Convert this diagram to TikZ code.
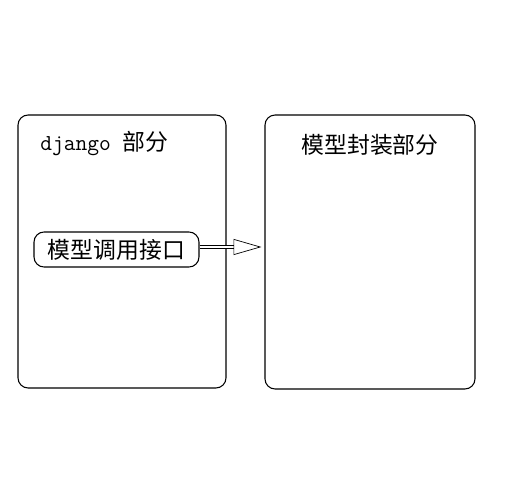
\documentclass[tikz,border=0pt]{standalone}
\usepackage{fontspec}
\newfontfamily\cjk{Noto Sans CJK SC}
\usetikzlibrary{arrows.meta}
\tikzset{
  part/.style={draw,rounded corners=0.2cm,line width=0.6pt},
  ifc/.style={draw,rounded corners=0.2cm,line width=0.6pt,minimum width=3.3cm,minimum height=0.7cm,inner sep=0pt,font=\cjk\fontsize{13}{15}\selectfont},
  ttl/.style={inner sep=0pt,font=\fontsize{13}{15}\selectfont},
  call/.style={line width=0.4pt,double,double distance=1.2pt,-{Triangle[open,length=0.56cm,width=0.32cm]}}
}

\begin{document}
\begin{tikzpicture}[x=0.02cm,y=-0.02cm]
\useasboundingbox (0,0) rectangle (531,500);
\node[part,minimum width=4.16cm,minimum height=5.46cm] (django) at (122,251.5) {};
\node[part,minimum width=4.2cm,minimum height=5.48cm] (model) at (370,252) {};
\node[ttl,anchor=west] (djt) at (40,143) {\ttfamily django \cjk 部分};
\node[ttl] (modt) at (370,145) {\cjk 模型封装部分};
\node[ifc] (api) at (116.5,249.5) {模型调用接口};
\draw[call] ([yshift=0.05cm]api.east) -- ([xshift=-0.06cm,yshift=0.05cm]model.west |- api.east);
\end{tikzpicture}
\end{document}
